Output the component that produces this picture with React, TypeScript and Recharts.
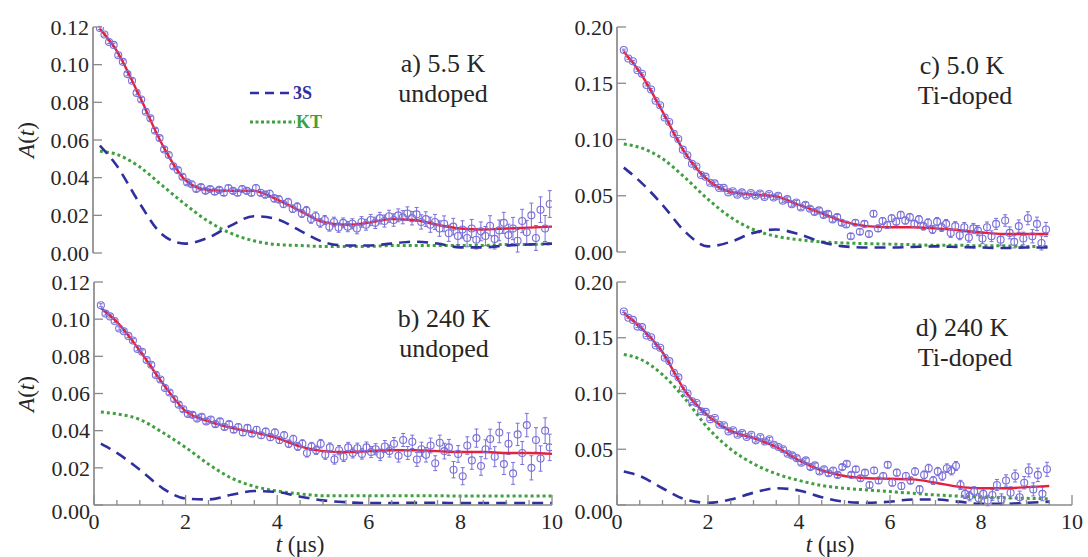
import React from 'react';
import { ComposedChart, Line, Scatter, XAxis, YAxis, ErrorBar } from 'recharts';

// ---------- data (asymmetry values in units of 1e-3) ----------
const tPts = [
  0.15, 0.25, 0.35, 0.45, 0.55, 0.65, 0.75, 0.85, 0.95, 1.05, 1.15, 1.25, 1.35, 1.45, 1.55, 1.65, 1.75, 1.85, 1.95,
  2.05, 2.15, 2.25, 2.35, 2.45, 2.55, 2.65, 2.75, 2.85, 2.95, 3.05, 3.15, 3.25, 3.35, 3.45, 3.55, 3.65, 3.75, 3.85, 3.95,
  4.05, 4.15, 4.25, 4.35, 4.45, 4.55, 4.65, 4.75, 4.85, 4.95, 5.05, 5.15, 5.25, 5.35, 5.45, 5.55, 5.65, 5.75, 5.85, 5.95,
  6.05, 6.15, 6.25, 6.35, 6.45, 6.55, 6.65, 6.75, 6.85, 6.95, 7.05, 7.15, 7.25, 7.35, 7.45, 7.55, 7.65, 7.75, 7.85, 7.95,
  8.05, 8.15, 8.25, 8.35, 8.45, 8.55, 8.65, 8.75, 8.85, 8.95, 9.05, 9.15, 9.25, 9.35, 9.45, 9.55, 9.65, 9.75, 9.85, 9.95,
];

const errMilli = [
  0.8, 0.8, 0.8, 0.9, 0.9, 0.9, 0.9, 1.0, 1.0, 1.0, 1.0, 1.0, 1.1, 1.1, 1.1, 1.1, 1.2, 1.2, 1.2,
  1.2, 1.3, 1.3, 1.3, 1.3, 1.4, 1.4, 1.4, 1.5, 1.5, 1.5, 1.6, 1.6, 1.6, 1.7, 1.7, 1.7, 1.8, 1.8, 1.9,
  1.9, 1.9, 2.0, 2.0, 2.1, 2.1, 2.2, 2.2, 2.3, 2.3, 2.4, 2.4, 2.5, 2.5, 2.6, 2.7, 2.7, 2.8, 2.8, 2.9,
  3.0, 3.0, 3.1, 3.2, 3.2, 3.3, 3.4, 3.5, 3.5, 3.6, 3.7, 3.8, 3.9, 4.0, 4.0, 4.1, 4.2, 4.3, 4.4, 4.5,
  4.6, 4.7, 4.8, 4.9, 5.0, 5.1, 5.3, 5.4, 5.5, 5.6, 5.8, 5.9, 6.0, 6.2, 6.3, 6.5, 6.6, 6.8, 6.9, 7.1,
];

const dataA = [
  119.5, 116, 112, 110.5, 105, 101.5, 95, 91.5, 85, 81.5, 75, 71.5, 65, 61, 55, 52, 46, 44, 40.5,
  37.5, 36.5, 34, 35, 33, 34, 32.5, 33.5, 32, 34.5, 33, 32, 34, 33, 32, 34.5, 32, 31, 31.5, 29,
  28.5, 26, 27, 23.5, 24.5, 21, 22.5, 18, 19.5, 16, 17.5, 14, 16.5, 13.5, 16, 14, 15.5, 13, 16.5, 15,
  17.5, 16, 18.5, 17, 19.5, 17.5, 20, 19, 21, 18.5, 20.5, 16.5, 18, 15, 16.5, 13, 15.5, 10.5, 14, 9,
  12.5, 8, 13, 7, 11.5, 9, 14.5, 7.5, 12, 16, 9.5, 13, 6.5, 17, 11, 20, 8, 23, 13, 26,
];
const dataB = [
  107.5, 103, 101.5, 99, 95, 93.5, 91, 88.5, 84, 82.5, 78, 75.5, 70, 67.5, 63, 60.5, 57, 54, 51.5,
  49, 48.5, 46.5, 47.5, 45, 46, 43.5, 45, 42, 43.5, 40.5, 42, 39, 41.5, 38.5, 40.5, 37.5, 39.5, 36.5, 39,
  35, 37.5, 33, 35.5, 31.5, 33, 28, 31.5, 29.5, 33, 27, 31, 24.5, 29.5, 26, 31, 28, 30.5, 27.5, 31,
  28.5, 30, 27, 31.5, 29, 33, 26.5, 35, 28, 34, 24.5, 30, 27, 32, 22.5, 33.5, 29, 31, 19, 27.5,
  15.5, 32, 24, 36, 21, 30, 35.5, 26, 39, 22, 33, 17, 38, 28, 43, 20, 35, 25, 40, 31,
];
const dataC = [
  179.5, 172, 169.5, 161.5, 158.5, 148.5, 144.5, 134.5, 130.5, 119.5, 115.5, 105, 100.5, 91, 86, 78.5, 76, 68.5, 67,
  61.5, 61, 57, 57, 53, 54, 51, 53, 50, 52.5, 50, 52, 49, 51.5, 48.5, 50, 45.5, 47, 42.5, 44,
  39.5, 42, 38.5, 35.5, 37, 33, 34, 29, 31, 26, 24.5, 14, 26, 18, 25, 16, 34, 21, 27.5, 24,
  30, 27, 33, 28, 31, 25, 29, 23, 26, 20, 27, 22, 25, 17, 23, 15, 22, 13, 21, 19,
  12, 22, 14, 25, 11, 28, 17, 9, 23, 12, 30, 14, 25, 8, 20,
];
const dataD = [
  173.5, 168, 166, 160, 159.5, 152, 150.5, 143, 141, 132, 129, 118.5, 114.5, 104.5, 100, 93, 91.5, 84, 83.5,
  77, 78, 72, 71.5, 66, 67, 63, 64.5, 61, 63, 58, 61, 57, 59, 54, 52, 50, 46, 44.5, 42,
  38, 40, 34, 35.5, 30, 32, 28.5, 31, 27, 34, 37, 27, 32, 24, 29, 18, 31, 22, 26, 36,
  20, 29, 17, 26, 22, 30, 14, 27, 33, 22, 30, 26, 33, 31, 35, 18, 10, 8, 12, 6,
  10, 4, 9, 18, 5, 22, 11, 26, 7, 20, 31, 14, 27, 10, 32,
];

const curveT = [0.15, 0.5, 1, 1.5, 2, 2.5, 3, 3.5, 4, 4.5, 5, 5.5, 6, 6.5, 7, 7.5, 8, 8.5, 9, 9.5, 10];

const fitA = [119, 108, 84, 58, 39, 33.5, 33, 33, 28.5, 22.5, 16.5, 15, 16, 18, 17.5, 15, 13, 12.5, 13, 13.5, 14];
const s3A = [57, 47, 27, 10, 5, 8, 14.5, 19.5, 18, 12, 6, 4, 4, 5, 6, 5, 3, 3, 4, 4.5, 5];
const ktA = [54, 52.5, 46, 36, 26, 17, 10.5, 6.5, 4.5, 4, 3.5, 3.5, 3.5, 4, 4, 4, 4, 4, 4.5, 4.5, 5];

const fitB = [106, 98.5, 83, 65.5, 50.5, 45, 41.5, 39, 36, 31.5, 29, 28.5, 29, 29.5, 29.5, 29, 28.5, 28.5, 28, 28, 27.5];
const s3B = [33, 28, 19, 9, 3.5, 3, 5.5, 7.5, 7, 4.5, 2.5, 1.5, 1, 1, 1.2, 1.2, 1, 1, 1, 1, 1];
const ktB = [50, 49, 46, 39, 31, 22, 14.5, 10, 7.5, 6, 5, 5, 5, 5, 5, 5, 4.8, 4.8, 4.8, 4.8, 4.8];

const fitC = [178, 160, 125, 88, 64, 53.5, 51, 49.5, 42, 34.5, 27, 23, 22, 22, 21, 19.5, 17.5, 16, 16, 16];
const s3C = [75, 63, 42, 18, 5, 9, 17, 20, 16, 9, 5, 4, 4, 4.5, 5, 4.5, 4, 3.5, 4, 4];
const ktC = [96, 93, 83, 66, 47, 31, 20, 14, 11, 9, 8, 7.5, 7, 6.5, 6, 6, 5.5, 5.5, 5, 5];

const fitD = [172, 160, 137, 102, 80, 66.5, 60, 52, 40, 31, 26, 24, 23.5, 23, 20, 16.5, 15, 15, 16, 17];
const s3D = [30, 26, 15, 5, 2, 5, 11, 15, 13, 7, 3, 2, 3, 5, 5, 3, 1, 1, 2, 3];
const ktD = [135, 131, 117, 95, 69, 50, 37, 28, 22, 17.5, 15, 13.5, 12, 10.5, 9, 8, 7, 6.5, 6, 5.5];

const xTicksAll = [0, 0.5, 1, 1.5, 2, 2.5, 3, 3.5, 4, 4.5, 5, 5.5, 6, 6.5, 7, 7.5, 8, 8.5, 9, 9.5, 10];
const xTicksMajor = [0, 2, 4, 6, 8, 10];
const yTicksSmall = [0, 0.02, 0.04, 0.06, 0.08, 0.1, 0.12];
const yTicksLarge = [0, 0.05, 0.1, 0.15, 0.2];

// ---------- styling ----------
const FONT = 'Liberation Serif, DejaVu Serif, serif';
const FRAME = '#8a8a8a';
const DATA_C = '#7a70d8';
const FIT_C = '#e5203c';
const S3_C = '#2f2fa0';
const KT_C = '#3fa03f';
const TEXT_C = '#262626';

const toPts = (ys: number[]) => ys.map((y, i) => ({ t: tPts[i], y: y / 1000, err: errMilli[i] / 1000 }));
const toCurve = (vs: number[]) => vs.map((v, i) => ({ t: curveT[i], v: v / 1000 }));

const DataMark = (p: any) => (
  <circle cx={p.cx} cy={p.cy} r={3.5} fill="none" stroke={DATA_C} strokeWidth={1.1} />
);

type PanelProps = {
  left: number; top: number; width: number; height: number;
  margin: { top: number; right: number; bottom: number; left: number };
  yWidth: number; xHeight: number; yMax: number; yTicks: number[];
  pts: number[]; fit: number[]; s3: number[]; kt: number[];
  xLabels: boolean; zeroShift: number;
};

function Panel(props: PanelProps) {
  const { left, top, width, height, margin, yWidth, xHeight, yMax, yTicks, pts, fit, s3, kt, xLabels, zeroShift } = props;
  const axisLine = { stroke: FRAME, strokeWidth: 1.7 };

  const bottomTick = (p: any) => {
    const v = p.payload.value;
    const major = xTicksMajor.includes(v);
    return (
      <g>
        <line x1={p.x} x2={p.x} y1={p.y} y2={p.y - (major ? 10 : 5)} stroke={FRAME} strokeWidth={1.3} />
        {xLabels && major ? (
          <text x={p.x} y={p.y + 24} textAnchor="middle" fontFamily={FONT} fontSize={22} fill={TEXT_C}>{v}</text>
        ) : null}
      </g>
    );
  };
  const topTick = (p: any) => {
    const v = p.payload.value;
    const major = xTicksMajor.includes(v);
    return <line x1={p.x} x2={p.x} y1={p.y} y2={p.y + (major ? 10 : 5)} stroke={FRAME} strokeWidth={1.3} />;
  };
  const leftTick = (p: any) => {
    const v = p.payload.value;
    return (
      <g>
        <line x1={p.x} x2={p.x + 9} y1={p.y} y2={p.y} stroke={FRAME} strokeWidth={1.3} />
        <text x={p.x - 4} y={p.y + (v === 0 ? zeroShift : 0)} dy="0.35em" textAnchor="end" fontFamily={FONT} fontSize={22} fill={TEXT_C}>
          {v.toFixed(2)}
        </text>
      </g>
    );
  };
  const rightTick = (p: any) => (
    <line x1={p.x} x2={p.x - 9} y1={p.y} y2={p.y} stroke={FRAME} strokeWidth={1.3} />
  );

  return (
    <div style={{ position: 'absolute', left, top, width, height }}>
      <ComposedChart width={width} height={height} margin={margin}>
        <XAxis dataKey="t" type="number" domain={[0, 10]} ticks={xTicksAll} interval={0} height={xHeight}
          tickSize={0} tickMargin={0} axisLine={axisLine} tickLine={false} tick={bottomTick} allowDataOverflow />
        <XAxis xAxisId="top" orientation="top" dataKey="t" type="number" domain={[0, 10]} ticks={xTicksAll} interval={0}
          height={0} tickSize={0} tickMargin={0} axisLine={axisLine} tickLine={false} tick={topTick} allowDataOverflow />
        <YAxis type="number" domain={[0, yMax]} ticks={yTicks} interval={0} width={yWidth}
          tickSize={0} tickMargin={0} axisLine={axisLine} tickLine={false} tick={leftTick} allowDataOverflow />
        <YAxis yAxisId="r" orientation="right" type="number" domain={[0, yMax]} ticks={yTicks} interval={0} width={0}
          tickSize={0} tickMargin={0} axisLine={axisLine} tickLine={false} tick={rightTick} allowDataOverflow />
        <Scatter data={toPts(pts)} dataKey="y" shape={DataMark} isAnimationActive={false}>
          <ErrorBar dataKey="err" direction="y" width={2} stroke={DATA_C} strokeWidth={1} />
        </Scatter>
        <Line data={toCurve(kt)} dataKey="v" type="monotone" stroke={KT_C} strokeWidth={3} strokeDasharray="3 3"
          dot={false} isAnimationActive={false} />
        <Line data={toCurve(s3)} dataKey="v" type="monotone" stroke={S3_C} strokeWidth={2.6} strokeDasharray="11 7"
          dot={false} isAnimationActive={false} />
        <Line data={toCurve(fit)} dataKey="v" type="monotone" stroke={FIT_C} strokeWidth={2.4}
          dot={false} isAnimationActive={false} />
      </ComposedChart>
    </div>
  );
}

const noteLine = (cx: number, cy: number): React.CSSProperties => ({
  position: 'absolute', left: cx - 80, top: cy - 13, width: 160, height: 26, lineHeight: '26px', textAlign: 'center',
  fontFamily: FONT, fontSize: 26, color: TEXT_C, whiteSpace: 'nowrap',
});

const yLabelStyle = (cx: number, cy: number): React.CSSProperties => ({
  position: 'absolute', left: cx - 40, top: cy - 15, width: 80, height: 30, lineHeight: '30px',
  textAlign: 'center', transform: 'rotate(-90deg)', fontFamily: FONT, fontSize: 23, color: TEXT_C,
});

const xLabelStyle = (cx: number, cy: number): React.CSSProperties => ({
  position: 'absolute', left: cx - 50, top: cy - 14, width: 100, height: 28, lineHeight: '28px',
  textAlign: 'center', fontFamily: FONT, fontSize: 23, color: TEXT_C,
});

export default function App() {
  return (
    <div style={{ position: 'absolute', left: 0, top: 0, width: 1088, height: 557, background: '#fff', overflow: 'hidden', fontFamily: FONT }}>
      <Panel left={0} top={0} width={560} height={270} margin={{ top: 27, right: 8, bottom: 17, left: 0 }}
        yWidth={93} xHeight={0} yMax={0.12} yTicks={yTicksSmall} pts={dataA} fit={fitA} s3={s3A} kt={ktA}
        xLabels={false} zeroShift={0} />
      <Panel left={560} top={0} width={528} height={270} margin={{ top: 27, right: 17, bottom: 18, left: 0 }}
        yWidth={57} xHeight={0} yMax={0.2} yTicks={yTicksLarge} pts={dataC} fit={fitC} s3={s3C} kt={ktC}
        xLabels={false} zeroShift={0} />
      <Panel left={0} top={270} width={580} height={287} margin={{ top: 12, right: 28, bottom: 0, left: 0 }}
        yWidth={94} xHeight={52} yMax={0.12} yTicks={yTicksSmall} pts={dataB} fit={fitB} s3={s3B} kt={ktB}
        xLabels={true} zeroShift={6} />
      <Panel left={560} top={270} width={528} height={287} margin={{ top: 12, right: 16, bottom: 0, left: 0 }}
        yWidth={57} xHeight={52} yMax={0.2} yTicks={yTicksLarge} pts={dataD} fit={fitD} s3={s3D} kt={ktD}
        xLabels={true} zeroShift={6} />

      <div style={noteLine(443, 64)}>a) 5.5 K</div>
      <div style={noteLine(443, 94)}>undoped</div>
      <div style={noteLine(962, 66)}>c) 5.0 K</div>
      <div style={noteLine(965, 96)}>Ti-doped</div>
      <div style={noteLine(444, 319)}>b) 240 K</div>
      <div style={noteLine(444, 349)}>undoped</div>
      <div style={noteLine(962, 328)}>d) 240 K</div>
      <div style={noteLine(965, 358)}>Ti-doped</div>

      <svg style={{ position: 'absolute', left: 0, top: 0 }} width={1088} height={557}>
        <line x1={250} x2={291} y1={93} y2={93} stroke={S3_C} strokeWidth={2.6} strokeDasharray="9 6" />
        <text x={293} y={99} fontFamily={FONT} fontSize={18} fontWeight="bold" fill={S3_C}>3S</text>
        <line x1={250} x2={295} y1={122} y2={122} stroke={KT_C} strokeWidth={3} strokeDasharray="3 2.5" />
        <text x={296} y={128} fontFamily={FONT} fontSize={18} fontWeight="bold" fill={KT_C}>KT</text>
      </svg>

      <div style={yLabelStyle(27, 140)}><i>A</i>(<i>t</i>)</div>
      <div style={yLabelStyle(27, 394)}><i>A</i>(<i>t</i>)</div>
      <div style={xLabelStyle(300, 545)}><i>t</i> (μs)</div>
      <div style={xLabelStyle(830, 545)}><i>t</i> (μs)</div>
    </div>
  );
}
